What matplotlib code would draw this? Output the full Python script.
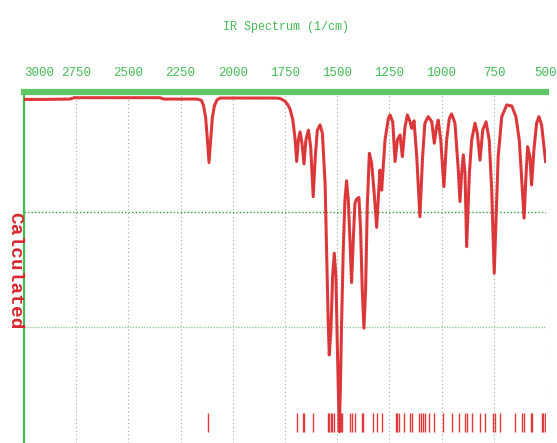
import matplotlib
matplotlib.use("Agg")
import matplotlib.pyplot as plt
import numpy as np

# Calculated IR spectrum: wavenumber (1/cm) and transmittance (%)
wavenumber = [
    3000, 2900, 2780, 2760, 2350, 2330, 2170, 2150, 2140, 2130, 2122, 2117, 2114,
    2111, 2106, 2098, 2088, 2075, 2060, 1800, 1774, 1750, 1736, 1726, 1713, 1702,
    1694, 1686, 1678, 1669, 1659, 1650, 1638, 1627, 1615, 1605, 1595, 1582, 1571,
    1558, 1550, 1543, 1538, 1530, 1522, 1514, 1506, 1500, 1493, 1490, 1485, 1479,
    1471, 1463, 1455, 1447, 1439, 1431, 1423, 1415, 1407, 1396, 1388, 1380, 1372,
    1364, 1356, 1346, 1335, 1324, 1311, 1301, 1295, 1287, 1271, 1255, 1247, 1234,
    1223, 1212, 1199, 1188, 1175, 1164, 1151, 1143, 1132, 1119, 1104, 1091, 1080,
    1064, 1047, 1035, 1024, 1016, 1004, 989, 976, 963, 952, 936, 920, 912, 904,
    896, 888, 880, 867, 856, 840, 829, 816, 803, 787, 772, 760, 752, 748, 740,
    729, 712, 688, 664, 644, 628, 615, 605, 596, 588, 577, 569, 558, 545, 534,
    521, 513, 502,
]
transmittance = [
    99.3, 99.3, 99.4, 99.8, 99.8, 99.4, 99.4, 99.0, 97.5, 94.0, 88.0, 83.5, 81.0,
    83.5, 88.0, 94.0, 97.5, 99.2, 99.7, 99.7, 99.6, 98.8, 97.7, 96.5, 93.5, 88.0,
    81.3, 87.5, 89.9, 86.7, 80.6, 87.5, 90.4, 85.6, 71.1, 82.7, 90.4, 91.9, 89.5,
    75.0, 53.7, 34.4, 25.2, 32.5, 47.9, 54.7, 47.9, 29.6, 10.2, 3.0, 15.1, 34.4,
    55.7, 70.2, 75.7, 70.2, 58.6, 46.2, 58.6, 69.2, 70.4, 70.9, 61.5, 44.1, 33.0,
    44.1, 68.2, 83.7, 80.8, 73.0, 62.2, 73.0, 78.8, 73.0, 87.5, 93.8, 94.8, 92.8,
    81.3, 87.5, 89.0, 82.7, 91.4, 94.8, 92.8, 90.9, 93.1, 82.7, 65.3, 82.7, 92.4,
    94.3, 92.8, 86.6, 91.4, 93.3, 87.5, 74.0, 87.5, 93.8, 95.1, 92.4, 78.8, 69.7, 77.9,
    83.2, 78.0, 56.6, 77.9, 87.5, 92.4, 89.5, 81.7, 90.4, 92.8, 87.5, 73.0, 57.1, 48.9, 63.4,
    82.7, 94.3, 97.7, 97.4, 94.3, 87.5, 75.0, 64.9, 76.9, 85.6, 82.7, 74.5, 84.6, 92.4, 94.3,
    91.9, 87.5, 81.3,
]

# calculated line positions drawn as sticks along the bottom
stick_positions = [
    2117, 1694, 1665, 1658, 1615, 1545, 1538, 1531, 1524, 1517, 1496, 1489, 1482,
    1475, 1439, 1431, 1415, 1383, 1375, 1330, 1311, 1284, 1218, 1212, 1203, 1180,
    1151, 1143, 1107, 1100, 1091, 1080, 1059, 1037, 992, 952, 917, 888, 880, 856,
    818, 792, 752, 744, 720, 647, 613, 605, 573, 565, 521, 513, 505,
]

x_ticks = [3000, 2750, 2500, 2250, 2000, 1750, 1500, 1250, 1000, 750, 500]
y_grid = [33.3, 66.7]

GREEN = "#44BB55"
RED = "#E23A3C"

fig = plt.figure(figsize=(5.57, 4.43), dpi=100)
ax = fig.add_axes([24 / 557, 0.0, 522 / 557, 351 / 443])

ax.set_xlim(3000, 500)
ax.set_ylim(-0.3, 101.45)

# grid
for x in x_ticks[1:]:
    ax.axvline(x, color="#8FB58F", lw=0.8, ls=(0, (1, 2.5)), zorder=1)
ax.axhline(y_grid[1], color="#2E9E3A", lw=1.0, ls=(0, (1, 1.5)), zorder=1)
ax.axhline(y_grid[0], color="#9CCB9C", lw=1.0, ls=(0, (1, 1)), zorder=1)

# spectrum
ax.plot(wavenumber, transmittance, color=RED, lw=2.2, zorder=3, solid_joinstyle="round")
ax.plot(wavenumber, transmittance, color="#6B1E1E", lw=0.6, ls=(0, (1, 3)), alpha=0.55, zorder=4)

# sticks
ax.vlines(stick_positions, 2.9, 8.4, color=RED, lw=1.0, zorder=2)

# frame
for side in ["right", "bottom"]:
    ax.spines[side].set_visible(False)
ax.spines["top"].set_color("#5DC865")
ax.spines["top"].set_linewidth(4.5)
ax.spines["left"].set_color(GREEN)
ax.spines["left"].set_linewidth(1.6)

ax.xaxis.tick_top()
ax.set_xticks(x_ticks)
ax.set_xticklabels([str(v) for v in x_ticks])
ax.tick_params(axis="x", length=0, pad=9, labelsize=9, labelcolor=GREEN)
for lab in ax.get_xticklabels():
    lab.set_family("Liberation Mono")
ax.get_xticklabels()[0].set_ha("left")
ax.set_yticks([])

fig.text(286 / 557, 1 - 27 / 443, "IR Spectrum (1/cm)", ha="center", va="center",
         color=GREEN, fontsize=8.5, family="Liberation Mono")
fig.text(15 / 557, 1 - 271 / 443, "Calculated", ha="center", va="center", rotation=270,
         color="#D8262E", fontsize=14, fontweight="bold", family="Liberation Mono")

fig.savefig("out.png", dpi=100)
